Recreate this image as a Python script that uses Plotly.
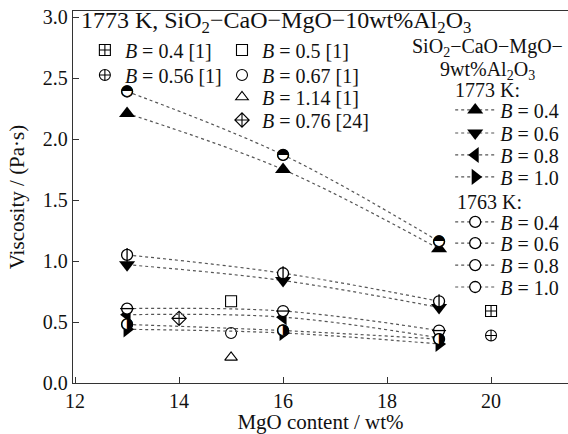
import plotly.graph_objects as go

# ---------------- data ----------------
mgo = [13, 16, 19]

b_labels = ["0.4", "0.6", "0.8", "1.0"]
v1773 = {
    "0.4": [2.21, 1.75, 1.10],
    "0.6": [0.97, 0.84, 0.62],
    "0.8": [0.56, 0.54, 0.37],
    "1.0": [0.44, 0.41, 0.32],
}
v1763 = {
    "0.4": [2.39, 1.87, 1.16],
    "0.6": [1.05, 0.90, 0.67],
    "0.8": [0.61, 0.59, 0.43],
    "1.0": [0.48, 0.43, 0.36],
}

lit_names = ["0.4 [1]", "0.56 [1]", "0.5 [1]", "0.67 [1]", "1.14 [1]", "0.76 [24]"]
lit_x = [20, 20, 15, 15, 15, 14]
lit_y = [0.59, 0.39, 0.67, 0.41, 0.21, 0.53]

x_ticks = [12, 14, 16, 18, 20]
y_ticks = [0.0, 0.5, 1.0, 1.5, 2.0, 2.5, 3.0]

# ---------------- styles ----------------
FONT = "Liberation Serif, Times New Roman, serif"
INK = "#111111"
tri_sym = {"0.4": "triangle-up", "0.6": "triangle-down", "0.8": "triangle-left", "1.0": "triangle-right"}
lit_sym = ["square-cross-open", "circle-cross-open", "square-open", "circle-open",
           "triangle-up-open", "diamond-cross-open"]
LINE = dict(color="#555555", width=1.2, dash="dot")

# legend slot positions (paper coords)
lit_pos = [(0.024, 0.895), (0.024, 0.828), (0.301, 0.895), (0.301, 0.828), (0.301, 0.769), (0.301, 0.707)]
pos1773 = [0.734, 0.672, 0.613, 0.554]
pos1763 = [0.433, 0.376, 0.317, 0.258]
RX = 0.762

fig = go.Figure()
legends = {}
n = 0


def new_legend(x, y, itemwidth=30):
    global n
    n += 1
    key = "legend" if n == 1 else "legend%d" % n
    legends[key] = dict(x=x, y=y, xanchor="left", yanchor="middle", bgcolor="rgba(0,0,0,0)",
                        font=dict(family=FONT, size=20, color=INK), itemwidth=itemwidth,
                        borderwidth=0)
    return key


# literature points
for i in range(len(lit_x)):
    fig.add_trace(go.Scatter(
        x=[lit_x[i]], y=[lit_y[i]], mode="markers",
        name="<i>B</i> = " + lit_names[i],
        marker=dict(symbol=lit_sym[i], size=11, color="black", line=dict(width=1.1, color="black")),
        legend=new_legend(*lit_pos[i]),
    ))

# 1773 K series
for j, b in enumerate(b_labels):
    fig.add_trace(go.Scatter(
        x=mgo, y=v1773[b], mode="lines+markers", line=LINE, line_shape="spline",
        name="<i>B</i> = " + b,
        marker=dict(symbol=tri_sym[b], size=14, color="black"),
        legend=new_legend(RX, pos1773[j], 40),
    ))

# 1763 K series
for j, b in enumerate(b_labels):
    fig.add_trace(go.Scatter(
        x=mgo, y=v1763[b], mode="lines+markers", line=LINE, line_shape="spline",
        name="<i>B</i> = " + b,
        marker=dict(symbol="circle", size=11, color="white", line=dict(width=1.3, color="black")),
        legend=new_legend(RX, pos1763[j], 40),
    ))
    if b == "0.6":
        fig.add_trace(go.Scatter(x=mgo, y=v1763[b], mode="markers", showlegend=False, hoverinfo="skip",
                                 marker=dict(symbol="line-ns", size=10, line=dict(width=1.3, color="black"))))
    elif b == "0.8":
        fig.add_trace(go.Scatter(x=mgo, y=v1763[b], mode="markers", showlegend=False, hoverinfo="skip",
                                 marker=dict(symbol="line-ew", size=10, line=dict(width=1.3, color="black"))))
    else:
        g = "\u25D3" if b == "0.4" else "\u25D1"
        fig.add_trace(go.Scatter(
            x=mgo, y=v1763[b], mode="text", text=[g] * len(mgo), textposition="middle center",
            textfont=dict(family="DejaVu Sans", size=15, color="black"),
            showlegend=False, hoverinfo="skip",
        ))


def ann(text, x, y, xanchor="center", size=20):
    return dict(text=text, xref="paper", yref="paper", x=x, y=y, xanchor=xanchor, yanchor="middle",
                showarrow=False, font=dict(family=FONT, size=size, color=INK))


fig.update_layout(
    width=568, height=434,
    margin=dict(l=73, r=0, t=11, b=51),
    plot_bgcolor="white", paper_bgcolor="white",
    font=dict(family=FONT, size=20, color=INK),
    title=dict(
        text="1773 K, SiO<sub>2</sub>\u2212CaO\u2212MgO\u221210wt%Al<sub>2</sub>O<sub>3</sub>",
        xref="paper", yref="paper", x=0.016, y=0.978, xanchor="left", yanchor="middle",
        font=dict(family=FONT, size=24, color=INK), pad=dict(t=0, b=0, l=0, r=0),
    ),
    xaxis=dict(
        range=[11.96, 21.48], tickvals=x_ticks, ticktext=[str(v) for v in x_ticks],
        showline=True, linecolor="#333", linewidth=1.3, mirror=True,
        ticks="inside", ticklen=6, tickcolor="#333", showgrid=False, zeroline=False,
        title=dict(text="MgO content / wt%", font=dict(family=FONT, size=21), standoff=0),
        tickfont=dict(family=FONT, size=20),
    ),
    yaxis=dict(
        range=[0, 3.05], tickvals=y_ticks, ticktext=["%.1f" % v for v in y_ticks],
        showline=True, linecolor="#333", linewidth=1.3,
        ticks="inside", ticklen=6, tickcolor="#333", showgrid=False, zeroline=False,
        title=dict(text="Viscosity / (Pa·s)", font=dict(family=FONT, size=21), standoff=12),
        tickfont=dict(family=FONT, size=20),
    ),
    showlegend=True,
    annotations=[
        ann("SiO<sub>2</sub>\u2212CaO\u2212MgO\u2212", 0.838, 0.903),
        ann("9wt%Al<sub>2</sub>O<sub>3</sub>", 0.838, 0.841),
        ann("1773 K:", 0.838, 0.788),
        ann("1763 K:", 0.842, 0.487),
    ],
)
fig.update_layout(**legends)

fig.write_html("out.html")
